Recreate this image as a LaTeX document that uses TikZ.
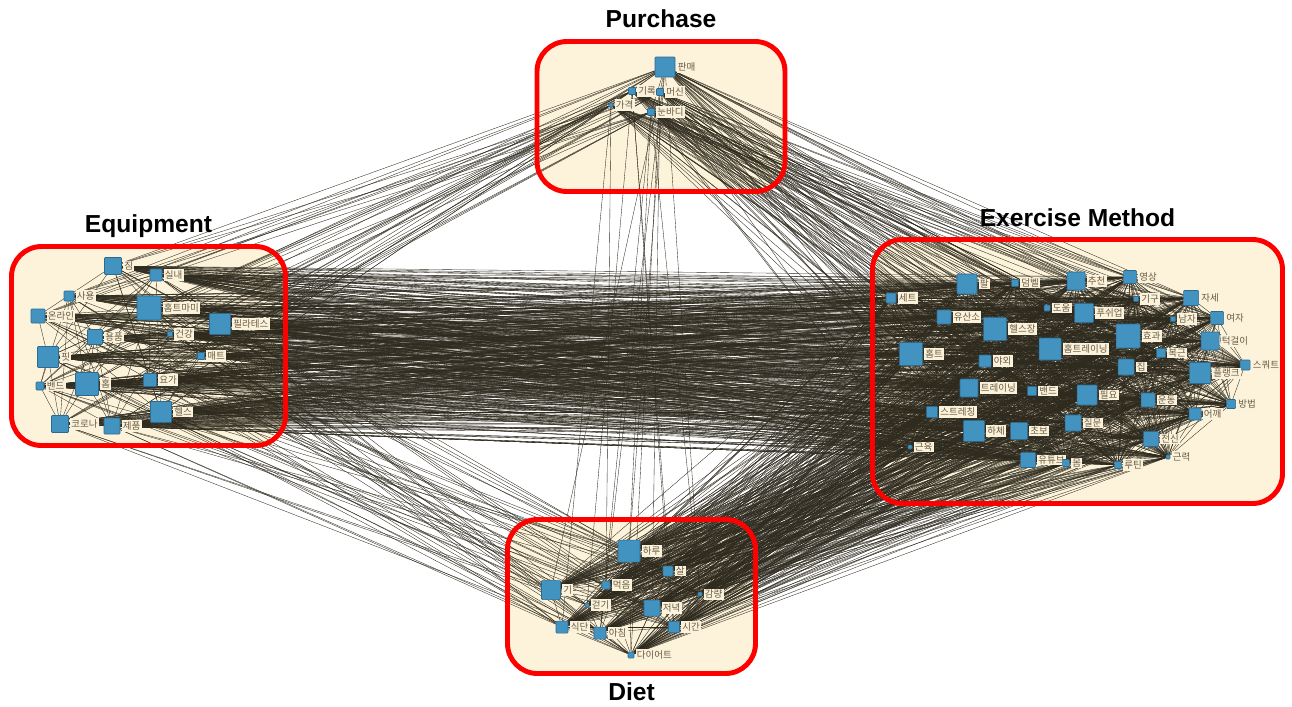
\documentclass[tikz,border=0pt]{standalone}
\usepackage{fontspec}
\newfontfamily\cjk{Noto Sans CJK KR}
\newfontfamily\headfont{Liberation Sans}
\usetikzlibrary{positioning}
\definecolor{boxfill}{HTML}{FDF3DA}
\definecolor{boxline}{HTML}{FF0000}
\definecolor{kwfill}{HTML}{4393C0}
\definecolor{kwline}{HTML}{2D6A90}
\definecolor{linkc}{HTML}{2E2A1E}
\definecolor{labtext}{HTML}{6B5B40}
\definecolor{labfill}{HTML}{FBF2DC}
\pgfdeclarelayer{back}
\pgfdeclarelayer{wires}
\pgfdeclarelayer{front}
\pgfsetlayers{back,wires,main,front}

\tikzset{
  grp/.style={fill=boxfill, rounded corners=6mm, inner sep=0pt, outer sep=0pt},
  rim/.style={draw=boxline, line width=2.8pt, rounded corners=6mm},
  ttl/.style={font=\headfont\bfseries\fontsize{14}{14}\selectfont, inner sep=0pt, text height=10pt, text depth=0pt},
  kw/.style={rectangle, draw=kwline, line width=0.3pt, fill=kwfill, rounded corners=0.4pt, inner sep=0pt, minimum size=#1*0.2mm},
  lab/.style={font=\cjk\fontsize{5.4}{6}\selectfont, text=labtext, fill=labfill, inner sep=0.7pt},
  link/.style={draw=linkc, line width=0.2pt},
  every label/.style={lab},
  label distance=0.6pt
}

\begin{document}
\begin{tikzpicture}[x=0.2mm, y=-0.2mm]
  \useasboundingbox (0,0) rectangle (1292,706);

  % groups
  \begin{pgfonlayer}{back}
    \node[grp, minimum width=248*0.2mm, minimum height=150*0.2mm] (pur) at (661,116.5) {};
    \node[grp, minimum width=274*0.2mm, minimum height=199*0.2mm] (eqp) at (148.5,346) {};
    \node[grp, minimum width=410*0.2mm, minimum height=264*0.2mm] (exm) at (1077.5,371.5) {};
    \node[grp, minimum width=248*0.2mm, minimum height=154*0.2mm] (die) at (631.5,596.5) {};
  \end{pgfonlayer}
  \begin{pgfonlayer}{front}
    \draw[rim] (pur.north west) rectangle (pur.south east);
    \draw[rim] (eqp.north west) rectangle (eqp.south east);
    \draw[rim] (exm.north west) rectangle (exm.south east);
    \draw[rim] (die.north west) rectangle (die.south east);
  \end{pgfonlayer}
  \node[ttl, above=2.8mm of pur] {Purchase};
  \node[ttl, above=2.8mm of eqp] {Equipment};
  \node[ttl, above=2.5mm of exm] {Exercise Method};
  \node[ttl, below=1.9mm of die] {Diet};

  % purchase
  \node[kw=20, label=right:판매] (pu1) at (665,67) {};
  \node[kw=7, label=right:기록] (pu2) at (632,91) {};
  \node[kw=7, label=right:머신] (pu3) at (660,92) {};
  \node[kw=4, label=right:가격] (pu4) at (611,105) {};
  \node[kw=7, label=right:눈바디] (pu5) at (651,112) {};

  % equipment
  \node[kw=17, label=right:짐] (eq1) at (113,266) {};
  \node[kw=12, label=right:실내] (eq2) at (156,275) {};
  \node[kw=10, label=right:사용] (eq3) at (69,296) {};
  \node[kw=24, label=right:홈트마미] (eq4) at (149,308) {};
  \node[kw=14, label=right:온라인] (eq5) at (38,316) {};
  \node[kw=21, label=right:필라테스] (eq6) at (220,324) {};
  \node[kw=15, label=right:용품] (eq7) at (95,337) {};
  \node[kw=5, label=right:건강] (eq8) at (170,334) {};
  \node[kw=7, label=right:매트] (eq9) at (201,356) {};
  \node[kw=21, label=right:핏] (eq10) at (48,357) {};
  \node[kw=8, label=right:밴드] (eq11) at (40,386) {};
  \node[kw=23, label=right:홈] (eq12) at (87,384) {};
  \node[kw=13, label=right:요가] (eq13) at (150,380) {};
  \node[kw=21, label=right:헬스] (eq14) at (161,412) {};
  \node[kw=17, label=right:코로나] (eq15) at (60,424) {};
  \node[kw=16, label=right:제품] (eq16) at (112,426) {};

  % diet
  \node[kw=22, label=right:하루] (di1) at (629,551) {};
  \node[kw=10, label=right:살] (di2) at (668,571) {};
  \node[kw=19, label=right:기] (di3) at (551,590) {};
  \node[kw=8, label=right:먹음] (di4) at (606,585) {};
  \node[kw=4, label=right:감량] (di5) at (700,594) {};
  \node[kw=4, label=right:걷기] (di6) at (587,605) {};
  \node[kw=16, label=right:저녁] (di7) at (652,608) {};
  \node[kw=12, label=right:식단] (di8) at (562,627) {};
  \node[kw=12, label=right:아침] (di9) at (600,633) {};
  \node[kw=11, label=right:시간] (di10) at (674,627) {};
  \node[kw=6, label=right:다이어트] (di11) at (631,655) {};

  % exercise method
  \node[kw=20, label=right:팔] (ex1) at (967,284) {};
  \node[kw=7, label=right:덤벨] (ex2) at (1015,283) {};
  \node[kw=10, label=right:세트] (ex3) at (891,298) {};
  \node[kw=14, label=right:유산소] (ex4) at (944,317) {};
  \node[kw=23, label=right:헬스장] (ex5) at (995,329) {};
  \node[kw=6, label=right:도움] (ex6) at (1047,308) {};
  \node[kw=23, label=right:홈트] (ex7) at (911,354) {};
  \node[kw=12, label=right:야외] (ex8) at (985,361) {};
  \node[kw=18, label=right:추천] (ex9) at (1076,281) {};
  \node[kw=13, label=right:영상] (ex10) at (1130,277) {};
  \node[kw=15, label=right:자세] (ex11) at (1191,298) {};
  \node[kw=5, label=right:기구] (ex12) at (1136,299) {};
  \node[kw=19, label=right:푸쉬업] (ex13) at (1084,313) {};
  \node[kw=5, label=right:남자] (ex14) at (1173,319) {};
  \node[kw=13, label=right:여자] (ex15) at (1217,318) {};
  \node[kw=24, label=right:효과] (ex16) at (1128,336) {};
  \node[kw=18, label=right:턱걸이] (ex17) at (1210,341) {};
  \node[kw=22, label=right:홈트레이닝] (ex18) at (1050,349) {};
  \node[kw=9, label=right:복근] (ex19) at (1161,353) {};
  \node[kw=10, label=right:스쿼트] (ex20) at (1245,365) {};
  \node[kw=16, label=right:집] (ex21) at (1126,367) {};
  \node[kw=21, label=right:플랭크] (ex22) at (1200,373) {};
  \node[kw=18, label=right:트레이닝] (ex23) at (969,388) {};
  \node[kw=9, label=right:밴드] (ex24) at (1032,391) {};
  \node[kw=20, label=right:필요] (ex25) at (1087,395) {};
  \node[kw=11, label=right:스트레칭] (ex26) at (932,412) {};
  \node[kw=21, label=right:하체] (ex27) at (974,431) {};
  \node[kw=17, label=right:초보] (ex28) at (1019,431) {};
  \node[kw=16, label=right:질문] (ex29) at (1073,423) {};
  \node[kw=14, label=right:운동] (ex30) at (1148,400) {};
  \node[kw=9, label=right:방법] (ex31) at (1231,404) {};
  \node[kw=12, label=right:어깨] (ex32) at (1195,414) {};
  \node[kw=15, label=right:전신] (ex33) at (1151,439) {};
  \node[kw=4, label=right:근육] (ex34) at (910,447) {};
  \node[kw=15, label=right:유튜브] (ex35) at (1028,460) {};
  \node[kw=7, label=right:몸] (ex36) at (1066,463) {};
  \node[kw=7, label=right:루틴] (ex37) at (1118,465) {};
  \node[kw=4, label=right:근력] (ex38) at (1168,457) {};

  \begin{pgfonlayer}{wires}
    % inside the groups
    \foreach \i in {2,...,5} {\draw[link] (pu1) -- (pu\i);}
    \draw[link] (pu2) -- (pu5);
    \draw[link] (pu3) -- (pu4);
    \foreach \i in {1,...,15} {
      \pgfmathtruncatemacro\k{\i+1}
      \foreach \j in {\k,...,16} {
        \pgfmathtruncatemacro\r{mod(3*\i+5*\j,4)}
        \ifnum\r<2 \draw[link] (eq\i) -- (eq\j);\fi
      }
    }
    \foreach \i in {1,...,10} {
      \pgfmathtruncatemacro\k{\i+1}
      \foreach \j in {\k,...,11} {\draw[link] (di\i) -- (di\j);}
    }
    \foreach \i in {1,...,37} {
      \pgfmathtruncatemacro\k{\i+1}
      \foreach \j in {\k,...,38} {\draw[link] (ex\i) -- (ex\j);}
    }
    % between the groups
    \foreach \i in {1,...,16} {
      \foreach \j in {1,...,38} {\draw[link] (eq\i) -- (ex\j);}
    }
    \foreach \i in {1,...,11} {
      \foreach \j in {1,...,38} {\draw[link] (di\i) -- (ex\j);}
    }
    \foreach \i in {1,...,5} {
      \foreach \j in {1,...,38} {
        \pgfmathtruncatemacro\r{mod(2*\i+7*\j,3)}
        \ifnum\r>0 \draw[link] (pu\i) -- (ex\j);\fi
      }
    }
    \foreach \i in {1,...,5} {
      \foreach \j in {1,...,16} {
        \pgfmathtruncatemacro\r{mod(\i+3*\j,2)}
        \ifnum\r=0 \draw[link] (pu\i) -- (eq\j);\fi
      }
    }
    \foreach \i in {1,...,5} {
      \foreach \j in {1,...,11} {
        \pgfmathtruncatemacro\r{mod(3*\i+\j,4)}
        \ifnum\r=0 \draw[link] (pu\i) -- (di\j);\fi
      }
    }
    \foreach \i in {1,...,16} {
      \foreach \j in {1,...,11} {
        \pgfmathtruncatemacro\r{mod(5*\i+2*\j,3)}
        \ifnum\r=0 \draw[link] (eq\i) -- (di\j);\fi
      }
    }
  \end{pgfonlayer}
\end{tikzpicture}
\end{document}
